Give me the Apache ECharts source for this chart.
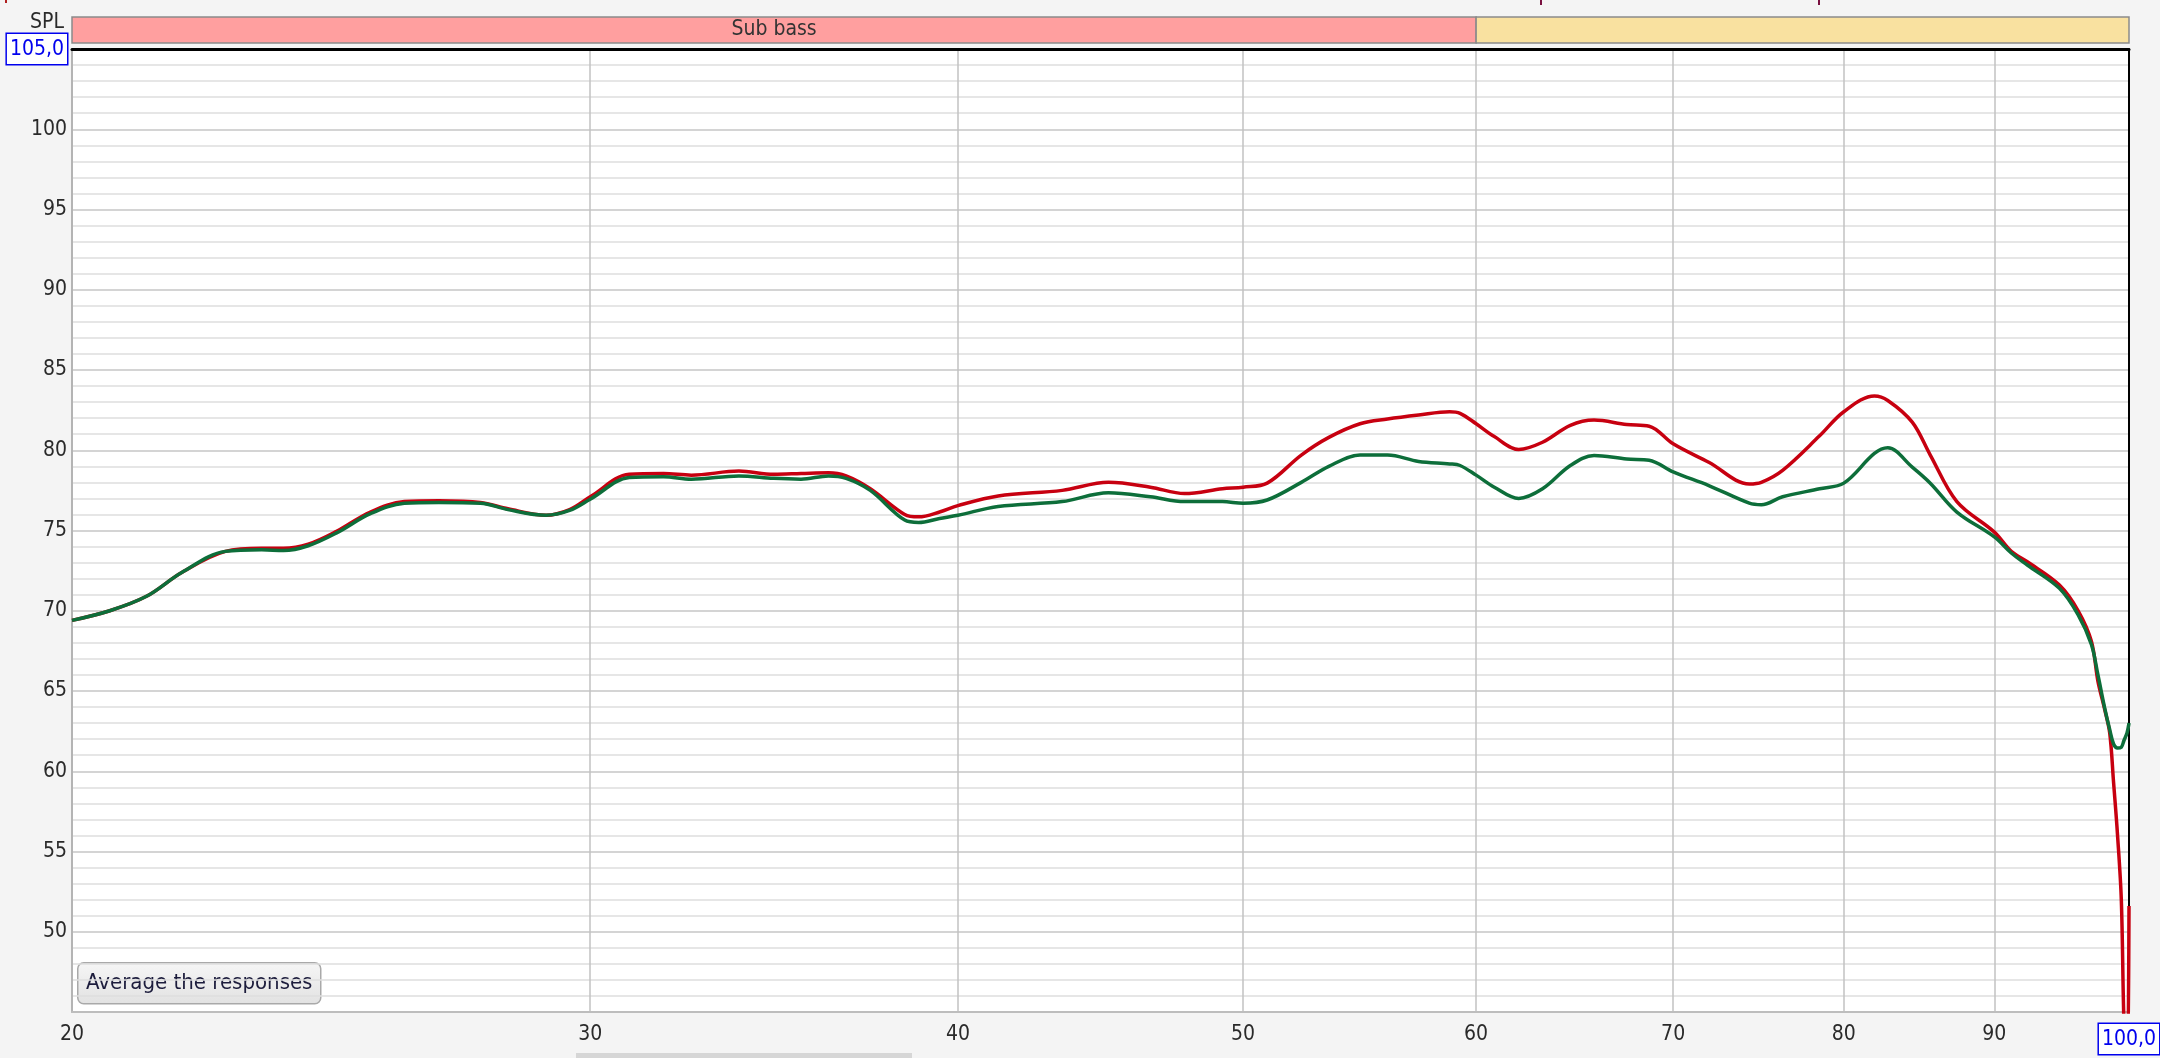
<!DOCTYPE html>
<html>
<head>
<meta charset="utf-8">
<script src="https://cdn.jsdelivr.net/npm/echarts@6/dist/echarts.min.js"></script>
<style>
html,body{margin:0;padding:0;background:#f4f4f4;}
#chart{width:2160px;height:1058px;}
</style>
</head>
<body>
<div id="chart"></div>
<script>
// ---- data ----
const freqHz = [20.0,20.6,21.2,21.8,22.55,23.2,23.6,24.06,24.6,25.26,25.94,26.65,27.53,28.13,28.98,29.52,
  30.0,30.93,31.77,32.47,33.7,34.63,35.38,36.15,36.65,37.35,38.37,38.79,39.43,40.0,41.28,43.4,45.0,46.5,
  47.76,49.2,50.0,50.95,52.33,53.47,54.79,55.98,57.36,58.77,59.25,60.0,60.86,62.03,63.2,64.59,65.8,67.5,
  68.7,70.0,71.98,74.3,75.0,76.26,78.5,80.0,81.94,82.8,84.4,85.6,87.4,90.0,91.2,92.35,94.7,96.1,97.1,97.6,
  98.1,98.5,98.8,99.1,99.4,99.6,99.85,100.0];
const splRed = [69.4,70.0,70.9,72.4,73.7,73.9,73.9,74.15,74.95,76.15,76.8,76.85,76.75,76.35,75.95,76.3,
  77.1,78.5,78.55,78.45,78.7,78.5,78.55,78.6,78.4,77.6,76.0,75.85,76.15,76.55,77.15,77.5,78.0,77.7,
  77.3,77.6,77.7,77.95,79.7,80.8,81.65,81.95,82.2,82.4,82.3,81.65,80.85,80.05,80.5,81.55,81.88,81.6,
  81.5,80.4,79.25,77.9,78.0,78.75,80.9,82.4,83.38,83.1,81.75,79.7,76.8,74.9,73.7,73.05,71.6,70.0,68.1,65.6,
  63.9,62.4,59.3,56.1,52.0,44.5,40.0,51.6];
const splGreen = [69.4,70.0,70.9,72.4,73.7,73.8,73.75,74.05,74.85,76.05,76.7,76.75,76.7,76.3,75.95,76.25,
  76.95,78.3,78.35,78.2,78.4,78.25,78.2,78.4,78.25,77.5,75.65,75.5,75.75,75.95,76.5,76.8,77.35,77.1,
  76.8,76.8,76.7,76.9,78.0,79.0,79.7,79.7,79.3,79.15,79.05,78.45,77.7,77.0,77.6,79.05,79.68,79.45,
  79.38,78.65,77.8,76.7,76.6,77.1,77.6,77.95,79.8,80.15,78.95,77.95,76.15,74.6,73.6,72.85,71.4,69.75,67.9,66.0,
  64.0,62.6,61.7,61.45,61.5,61.9,62.4,63.0];
const xTicks = [20,30,40,50,60,70,80,90,100];
const yMin = 45, yMax = 105, yStep = 5;
const bandStart = [20, 60];
const bandEnd = [60, 100];
const bandLabels = ['Sub bass', ''];
const bandColors = ['#ff9f9f', '#f9e1a0'];
const yLabelText = 'SPL';
const buttonText = 'Average the responses';

const FONT = "'DejaVu Sans Condensed','DejaVu Sans',sans-serif";
const chart = echarts.init(document.getElementById('chart'), null, {renderer:'canvas'});

const boxRich = {
  b: {color:'#0000ee', borderColor:'#0000ee', borderWidth:1.5, backgroundColor:'#ffffff',
      padding:[5,3,4,3], fontSize:21, fontFamily:FONT}
};

const option = {
  backgroundColor:'#f4f4f4',
  animation:false,
  grid:[
    {left:72, right:31, top:49, bottom:46, show:true, backgroundColor:'#ffffff', borderWidth:0,
     containLabel:false, outerBoundsMode:'none'},
    {left:72, right:31, top:17, height:26, show:false, containLabel:false, outerBoundsMode:'none'}
  ],
  xAxis:[
    {gridIndex:0, type:'log', min:20, max:100, position:'bottom',
     axisLine:{show:true, lineStyle:{color:'#bdbdbd', width:2}},
     axisTick:{show:false, customValues:xTicks},
     splitLine:{show:true, lineStyle:{color:'#c2c2c2', width:1.5}},
     axisLabel:{customValues:xTicks, showMinLabel:true, showMaxLabel:true, margin:12,
       color:'#2a2a2a', fontSize:21, fontFamily:FONT,
       formatter:v => Math.round(v)===100 ? '{b|100,0}' : String(Math.round(v)), rich:boxRich}},
    {gridIndex:0, type:'log', min:20, max:100, position:'top',
     axisLine:{show:true, onZero:false, lineStyle:{color:'#000', width:3}},
     axisTick:{show:false}, axisLabel:{show:false}, splitLine:{show:false}},
    {gridIndex:1, type:'log', min:20, max:100, show:false}
  ],
  yAxis:[
    {gridIndex:0, type:'value', min:yMin, max:yMax, interval:yStep,
     axisLine:{show:true, lineStyle:{color:'#b4b4b4', width:2}},
     axisTick:{show:false},
     splitLine:{show:true, lineStyle:{color:'#c6c6c6', width:1.5}},
     minorTick:{show:false, splitNumber:5},
     minorSplitLine:{show:true, lineStyle:{color:'#dedede', width:1.5}},
     axisLabel:{margin:5, color:'#2a2a2a', fontSize:21, fontFamily:FONT, showMinLabel:true, showMaxLabel:true,
       formatter:v => v===yMax ? '{b|105,0}' : (v===yMin ? '' : String(v)), rich:boxRich}},
    {gridIndex:0, type:'value', min:yMin, max:yMax, position:'right',
     axisLine:{show:true, lineStyle:{color:'#000', width:2}},
     axisTick:{show:false}, axisLabel:{show:false}, splitLine:{show:false}},
    {gridIndex:1, type:'value', min:0, max:1, show:false}
  ],
  series:[
    {type:'line', xAxisIndex:0, yAxisIndex:0, showSymbol:false, smooth:0.35, clip:true,
     lineStyle:{color:'#c70010', width:3.5}, z:3,
     data:freqHz.map((f,i)=>[f, splRed[i]])},
    {type:'line', xAxisIndex:0, yAxisIndex:0, showSymbol:false, smooth:0.35, clip:true,
     lineStyle:{color:'#0d6e3a', width:3.5}, z:4,
     data:freqHz.map((f,i)=>[f, splGreen[i]])},
    {type:'line', xAxisIndex:2, yAxisIndex:2, data:[], silent:true,
     markArea:{silent:true,
       label:{show:true, position:'inside', color:'#333', fontSize:21, fontFamily:FONT},
       data:bandStart.map((s,i)=>[
         {xAxis:s, yAxis:0, name:bandLabels[i],
          itemStyle:{color:bandColors[i], borderColor:'#8a8a8a', borderWidth:1.5}},
         {xAxis:bandEnd[i], yAxis:1}])}}
  ],
  graphic:[
    {type:'text', left:30, top:12, z:0, style:{text:yLabelText, fill:'#2a2a2a', font:'21px '+FONT}},
    {type:'group', left:77, top:962, z:10, children:[
      {type:'rect', shape:{x:0,y:0,width:243,height:41,r:6},
       style:{fill:new echarts.graphic.LinearGradient(0,0,0,1,[{offset:0,color:'#f6f6f6'},{offset:1,color:'#e2e2e2'}]),
              stroke:'#a9a9a9', lineWidth:1.5}},
      {type:'text', x:121.5, y:21, style:{text:buttonText, fill:'#1c1c3c', font:'22px '+FONT,
        align:'center', verticalAlign:'middle'}}
    ]},
    {type:'rect', left:576, top:1053, z:0, shape:{width:336, height:5}, style:{fill:'#d6d6d6'}},
    {type:'rect', left:1540, top:0, shape:{width:2, height:5}, style:{fill:'#7a1040'}},
    {type:'rect', left:1818, top:0, shape:{width:2, height:5}, style:{fill:'#7a1040'}},
    {type:'rect', left:5, top:0, shape:{width:2, height:3}, style:{fill:'#b02020'}}
  ]
};
chart.setOption(option);
</script>
</body>
</html>
